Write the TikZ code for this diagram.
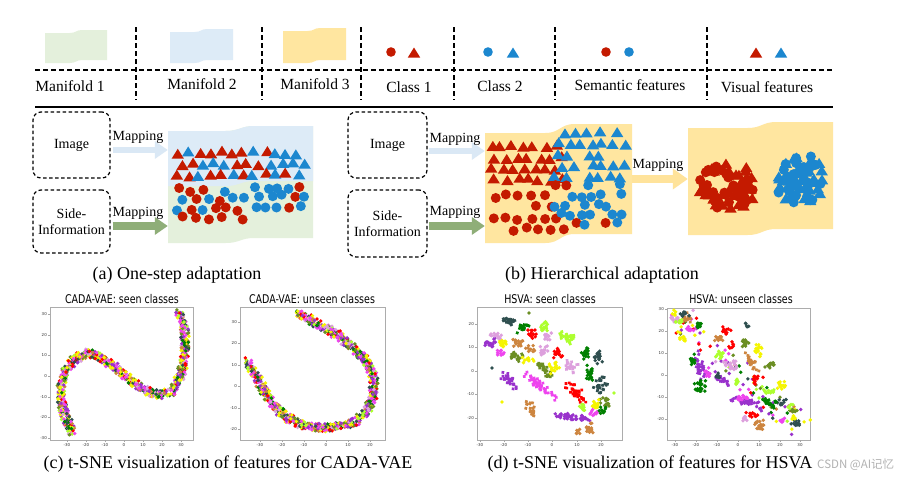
\documentclass[tikz,border=0pt]{standalone}
\usepackage{fontspec}
\setmainfont{Liberation Serif}
\newfontfamily\dvs{DejaVu Sans}
\newfontfamily\cjk{Noto Sans CJK SC}
\usetikzlibrary{arrows.meta}
\definecolor{cR}{HTML}{C41A00}
\definecolor{cB}{HTML}{1C87CF}
\definecolor{mG}{HTML}{E4F0DC}
\definecolor{mB}{HTML}{DDEBF7}
\definecolor{mY}{HTML}{FFE6A0}
\definecolor{arB}{HTML}{DAE8F5}
\definecolor{arG}{HTML}{8FAE78}
\definecolor{arY}{HTML}{FFE39B}
\definecolor{cpurple}{HTML}{9932CC}
\definecolor{cmag}{HTML}{EE44EE}
\definecolor{cplum}{HTML}{DDA0DD}
\definecolor{cyel}{HTML}{F5F500}
\definecolor{cgy}{HTML}{ADFF2F}
\definecolor{cdg}{HTML}{008000}
\definecolor{cdsg}{HTML}{2F4F4F}
\definecolor{cperu}{HTML}{CD853F}
\definecolor{colive}{HTML}{6B8E23}
\definecolor{cred}{HTML}{FF0000}
\pgfmathdeclarerandomlist{tsne}{{cpurple}{cmag}{cplum}{cyel}{cgy}{cdg}{cdsg}{cperu}{colive}{cred}{cpurple}{cmag}{cyel}}
\newcommand\mytri[3]{\fill[#1] (#2,#3) ++(0,-5.5) -- ++(6.2,10) -- ++(-12.4,0) -- cycle;}
\newcommand\mycirc[3]{\fill[#1] (#2,#3) circle[radius=5];}
\newcommand\flag[7]{%
 \pgfmathsetmacro\fw{(#3-#2)*0.1}%
 \pgfmathsetmacro\fma{#6-\fw}%
 \pgfmathsetmacro\fmb{#6+\fw}%
 \pgfmathsetmacro\fta{#4-#7}%
 \pgfmathsetmacro\fba{#5-#7}%
 \path[#1] (#2,#4) -- (\fma,#4) .. controls (#6,#4) and (#6,\fta) .. (\fmb,\fta) -- (#3,\fta) -- (#3,\fba) -- (\fmb,\fba) .. controls (#6,\fba) and (#6,#5) .. (\fma,#5) -- (#2,#5) -- cycle;}
\newcommand\clus[7]{%
 \pgfmathtruncatemacro\nk{#7*1.7}%
 \begin{scope}[shift={(#2,#3)}, rotate=#6]
 \foreach \k in {1,...,\nk}{\pgfmathsetmacro\uu{(rand+rand)/2*#4*1.1}\pgfmathsetmacro\vv{(rand+rand)/2*#5*1.1}\fill[#1] (\uu,\vv) circle[radius=1.9];}
 \end{scope}}
% #1 jitter, #2 density, #3 segments
\newcommand\tsneband[3]{%
 \foreach \xa/\ya/\xb/\yb in {#3}{%
  \pgfmathtruncatemacro\nn{veclen(\xb-\xa,\yb-\ya)*#2}%
  \foreach \k in {1,...,\nn}{%
   \pgfmathsetmacro\tt{rnd}%
   \pgfmathsetmacro\qx{\xa+\tt*(\xb-\xa)+rand*#1}%
   \pgfmathsetmacro\qy{\ya+\tt*(\yb-\ya)+rand*#1}%
   \pgfmathrandomitem{\tcol}{tsne}%
   \fill[\tcol] (\qx,\qy) circle[radius=1.9];}}}
\newcommand\ptit[1]{\scalebox{0.79}[1]{#1}}
\tikzset{
 dbox/.style={draw, line width=1.2pt, dash pattern=on 3.5pt off 2.5pt, rounded corners=8pt, align=center, inner sep=0pt, font=\fontsize{14}{15.5}\selectfont},
 maplab/.style={font=\fontsize{14}{16}\selectfont, inner sep=1pt},
 leglab/.style={font=\fontsize{15.5}{17}\selectfont, inner sep=1pt},
 captext/.style={font=\fontsize{18}{20}\selectfont, inner sep=1pt},
 ptitle/.style={font=\dvs\fontsize{12}{13}\selectfont, inner sep=1pt},
 tickl/.style={font=\dvs\fontsize{4}{4}\selectfont, inner sep=0.5pt, text=black!80},
 pframe/.style={draw=gray!65, line width=0.7pt, inner sep=0pt},
 legdash/.style={line width=1.3pt, dash pattern=on 5pt off 3pt},
 arrblue/.style={draw=arB, line width=6pt, -{Triangle[length=13pt,width=17pt]}},
 arrgreen/.style={draw=arG, line width=8pt, -{Triangle[length=13pt,width=17pt]}},
 arryellow/.style={draw=arY, line width=8pt, -{Triangle[length=15pt,width=20pt]}},
 ghostbox/.style={inner sep=0pt}
}
\begin{document}
\begin{tikzpicture}[x=1pt,y=-1pt]
\pgfmathsetseed{4242}
\useasboundingbox (0,0) rectangle (904,482);
\fill[white] (0,0) rectangle (904,482);
% ---------- legend ----------
\draw[legdash] (35,70) -- (832,70);
\foreach \xx in {136,262,361,454,555,707}{\draw[legdash] (\xx,27) -- (\xx,100);}
\draw[line width=1.5pt] (35,107) -- (833,107);
\flag{fill=mG}{45}{107}{33}{63}{76}{3}
\flag{fill=mB}{170}{233}{32}{63}{201}{3}
\flag{fill=mY}{283}{346}{31}{63}{314}{3}
\fill[cR] (391,52) circle[radius=4.8];
\mytri{cR}{414}{53}
\fill[cB] (488,52) circle[radius=4.8];
\mytri{cB}{513}{53}
\fill[cR] (606,52) circle[radius=4.8];
\fill[cB] (629,52) circle[radius=4.8];
\mytri{cR}{756}{53}
\mytri{cB}{781}{53}
\node[leglab] (l1) at (70,86) {Manifold 1};
\node[leglab] (l2) at (202,84) {Manifold 2};
\node[leglab] (l3) at (315,84) {Manifold 3};
\node[leglab] (l4) at (409,87) {Class 1};
\node[leglab] (l5) at (500,86) {Class 2};
\node[leglab] (l6) at (630,85) {Semantic features};
\node[leglab] (l7) at (767,87) {Visual features};
% ---------- panel (a) ----------
\node[dbox, minimum width=77pt, minimum height=66pt] (imgA) at (71.5,145) {Image};
\node[dbox, minimum width=77pt, minimum height=63pt] (sideA) at (71.5,221.5) {Side-\\Information};
\flag{fill=mG}{168}{313}{131}{243}{240}{5}
\flag{fill=mB}{168}{313}{131}{186}{240}{5}
\node[ghostbox, minimum width=145pt, minimum height=112pt] (manA) at (240.5,187) {};
\coordinate (aA1) at ([yshift=-5pt]imgA.east);
\coordinate (aA2) at ([yshift=-4.5pt]sideA.east);
\draw[arrblue, shorten <=2pt] (aA1) -- (aA1 -| manA.west);
\draw[arrgreen, shorten <=2pt] (aA2) -- (aA2 -| manA.west);
\node[maplab] (mA1) at (138,137) {Mapping};
\node[maplab] (mA2) at (138,213) {Mapping};
\foreach \ri in {0,1,2}{\foreach \ci in {0,...,11}{%
 \pgfmathsetmacro\px{177+\ci*11+mod(\ri,2)*5+rand*2.5}%
 \pgfmathsetmacro\py{153+\ri*11+rand*2}%
 \pgfmathsetmacro\pr{0.8-(\px-175)/135*0.6}%
 \pgfmathtruncatemacro\isr{rnd<\pr}%
 \ifnum\isr=1 \mytri{cR}{\px}{\py}\else\mytri{cB}{\px}{\py}\fi}}
\foreach \ri in {0,...,3}{\foreach \ci in {0,...,5}{%
 \pgfmathsetmacro\px{178+\ci*12+mod(\ri,2)*6+rand*2}%
 \pgfmathsetmacro\py{190+\ri*9.5+rand*2}%
 \pgfmathtruncatemacro\isr{rnd<0.72}%
 \pgfmathtruncatemacro\skp{rnd<0.12}%
 \ifnum\skp=0 \ifnum\isr=1 \mycirc{cR}{\px}{\py}\else\mycirc{cB}{\px}{\py}\fi\fi}}
\foreach \ri in {0,1,2}{\foreach \ci in {0,...,4}{%
 \pgfmathsetmacro\px{256+\ci*11+mod(\ri,2)*5+rand*2}%
 \pgfmathsetmacro\py{187+\ri*9.5+rand*2}%
 \pgfmathtruncatemacro\isr{rnd<0.22}%
 \ifnum\isr=1 \mycirc{cR}{\px}{\py}\else\mycirc{cB}{\px}{\py}\fi}}
\node[captext] (capA) at (177,275) {(a) One-step adaptation};
% ---------- panel (b) ----------
\node[dbox, minimum width=79pt, minimum height=66pt] (imgB) at (387.5,145) {Image};
\node[dbox, minimum width=79pt, minimum height=67pt] (sideB) at (387.5,223.5) {Side-\\Information};
\flag{fill=mY}{485}{632}{133}{243}{560}{9}
\flag{fill=mY}{688}{833}{128}{235}{762}{6}
\node[ghostbox, minimum width=147pt, minimum height=100pt] (manB1) at (558.5,179) {};
\node[ghostbox, minimum width=145pt, minimum height=100pt] (manB2) at (760.5,179) {};
\coordinate (aB1) at ([yshift=-6pt]imgB.east);
\coordinate (aB2) at ([yshift=-2.5pt]sideB.east);
\draw[arrblue, shorten <=1pt] (aB1) -- (aB1 -| manB1.west);
\draw[arrgreen, shorten <=1pt] (aB2) -- (aB2 -| manB1.west);
\draw[arryellow] (manB1.east) -- (manB2.west);
\node[maplab] (mB1) at (455,139) {Mapping};
\node[maplab] (mB2) at (455,212) {Mapping};
\node[maplab] (mB3) at (658,165) {Mapping};
\foreach \ri in {0,...,3}{\foreach \ci in {0,...,6}{%
 \pgfmathsetmacro\px{491+\ci*10.8+mod(\ri,2)*5+rand*2.5}%
 \pgfmathsetmacro\py{147+\ri*11+rand*2}%
 \pgfmathtruncatemacro\skp{rnd<0.15}%
 \ifnum\skp=0 \mytri{cR}{\px}{\py}\fi}}
\foreach \ri in {0,...,4}{\foreach \ci in {0,...,6}{%
 \pgfmathsetmacro\px{556+\ci*10.5+mod(\ri,2)*5+rand*2.5}%
 \pgfmathsetmacro\py{133+\ri*11+rand*1.5}%
 \pgfmathtruncatemacro\skp{rnd<0.2}%
 \ifnum\skp=0 \mytri{cB}{\px}{\py}\fi}}
\foreach \ri in {0,...,3}{\foreach \ci in {0,...,5}{%
 \pgfmathsetmacro\px{494+\ci*12.5+mod(\ri,2)*6+rand*2}%
 \pgfmathsetmacro\py{196+\ri*11+rand*2}%
 \pgfmathtruncatemacro\skp{rnd<0.2}%
 \ifnum\skp=0 \mycirc{cR}{\px}{\py}\fi}}
\foreach \ri in {0,...,4}{\foreach \ci in {0,...,6}{%
 \pgfmathsetmacro\px{555+\ci*10.5+mod(\ri,2)*5+rand*2}%
 \pgfmathsetmacro\py{186+\ri*9.5+rand*2}%
 \pgfmathtruncatemacro\skp{rnd<0.25}%
 \pgfmathtruncatemacro\isr{rnd<0.12}%
 \ifnum\skp=0 \ifnum\isr=1 \mycirc{cR}{\px}{\py}\else\mycirc{cB}{\px}{\py}\fi\fi}}
\foreach \k in {1,...,68}{%
 \pgfmathsetmacro\ang{rnd*360}\pgfmathsetmacro\rad{sqrt(rnd)}%
 \pgfmathsetmacro\px{728+\rad*29*cos(\ang)}\pgfmathsetmacro\py{186+\rad*24*sin(\ang)}%
 \pgfmathtruncatemacro\shp{rnd<0.5}%
 \ifnum\shp=1 \mytri{cR}{\px}{\py}\else\mycirc{cR}{\px}{\py}\fi}
\foreach \k in {1,...,66}{%
 \pgfmathsetmacro\ang{rnd*360}\pgfmathsetmacro\rad{sqrt(rnd)}%
 \pgfmathsetmacro\px{800+\rad*26*cos(\ang)}\pgfmathsetmacro\py{179+\rad*25*sin(\ang)}%
 \pgfmathtruncatemacro\shp{rnd<0.5}%
 \ifnum\shp=1 \mytri{cB}{\px}{\py}\else\mycirc{cB}{\px}{\py}\fi}
\node[captext] (capB) at (602,275) {(b) Hierarchical adaptation};
% ---------- plots ----------
\node[pframe, minimum width=143pt, minimum height=133pt] (p1) at (121.5,373.5) {};
\node[pframe, minimum width=145pt, minimum height=133pt] (p2) at (312.5,373.5) {};
\node[pframe, minimum width=145pt, minimum height=133pt] (p3) at (549.5,373.5) {};
\node[pframe, minimum width=143pt, minimum height=132pt] (p4) at (738.5,374) {};
\node[ptitle] (t1) at (122,299) {\ptit{CADA-VAE: seen classes}};
\node[ptitle] (t2) at (312,299) {\ptit{CADA-VAE: unseen classes}};
\node[ptitle] (t3) at (550,299) {\ptit{HSVA: seen classes}};
\node[ptitle] (t4) at (741,299) {\ptit{HSVA: unseen classes}};
% y ticks
\foreach \v/\yy in {30/314,20/334.7,10/355.3,0/376,-10/396.7,-20/417.3,-30/438}{\draw[gray!70,line width=0.4pt] (50,\yy) -- (48,\yy); \node[tickl, anchor=east] (ya\yy) at (47.5,\yy) {\v};}
\foreach \v/\yy in {30/322,20/343.5,10/365,0/386.5,-10/408,-20/429.5}{\draw[gray!70,line width=0.4pt] (240,\yy) -- (238,\yy); \node[tickl, anchor=east] (yb\yy) at (237.5,\yy) {\v};}
\foreach \v/\yy in {20/324,10/347.5,0/371,-10/394.5,-20/418}{\draw[gray!70,line width=0.4pt] (477,\yy) -- (475,\yy); \node[tickl, anchor=east] (yc\yy) at (474.5,\yy) {\v};}
\foreach \v/\yy in {30/309,20/331,10/353,0/375,-10/397,-20/419}{\draw[gray!70,line width=0.4pt] (667,\yy) -- (665,\yy); \node[tickl, anchor=east] (yd\yy) at (664.5,\yy) {\v};}
% x ticks
\foreach \v/\xx in {-30/67,-20/86,-10/105,0/124,10/143,20/162,30/181}{\draw[gray!70,line width=0.4pt] (\xx,440) -- (\xx,442); \node[tickl, anchor=north] (xa\xx) at (\xx,442.5) {\v};}
\foreach \v/\xx in {-30/260,-20/282,-10/304,0/326,10/348,20/370}{\draw[gray!70,line width=0.4pt] (\xx,440) -- (\xx,442); \node[tickl, anchor=north] (xb\xx) at (\xx,442.5) {\v};}
\foreach \v/\xx in {-30/480,-20/504,-10/528,0/552,10/577,20/601}{\draw[gray!70,line width=0.4pt] (\xx,440) -- (\xx,442); \node[tickl, anchor=north] (xc\xx) at (\xx,442.5) {\v};}
\foreach \v/\xx in {-30/675,-20/696,-10/717,0/738,10/759,20/780,30/800}{\draw[gray!70,line width=0.4pt] (\xx,440) -- (\xx,442); \node[tickl, anchor=north] (xd\xx) at (\xx,442.5) {\v};}
% CADA-VAE bands
\tsneband{4}{3.2}{72/433/63/410, 63/410/60/392, 60/392/64/372, 64/372/75/359, 75/359/88/353, 88/353/100/357, 100/357/115/367, 115/367/130/380, 130/380/145/391, 145/391/160/395, 160/395/172/391, 172/391/181/376, 181/376/185/352, 185/352/185/330, 185/330/179/313}
\tsneband{4}{3.2}{297/313/317/323, 317/323/337/335, 337/335/353/348, 353/348/367/362, 367/362/374/378, 374/378/373/395, 373/395/366/412, 366/412/355/422, 355/422/330/428, 330/428/307/427, 307/427/287/418, 287/418/273/405, 273/405/263/389, 263/389/253/372, 253/372/247/361}
% HSVA seen
\clus{cdsg}{510}{321}{9}{4}{-20}{14}
\clus{cdg}{523}{327}{8}{4}{25}{12}
\clus{cred}{532}{334}{5}{4}{0}{8}
\clus{cgy}{543}{327}{6}{5}{0}{10}
\clus{cplum}{547}{337}{5}{4}{0}{6}
\clus{cgy}{568}{338}{12}{5}{-25}{18}
\clus{cpurple}{490}{343}{7}{5}{0}{12}
\clus{cyel}{502}{343}{5}{5}{0}{10}
\clus{cplum}{497}{336}{8}{3}{0}{8}
\clus{cmag}{500}{353}{4}{4}{0}{6}
\clus{cperu}{517}{343}{7}{4}{-10}{10}
\clus{cperu}{529}{348}{5}{4}{0}{6}
\clus{cplum}{546}{350}{6}{5}{0}{8}
\clus{cred}{558}{353}{6}{5}{0}{10}
\clus{colive}{515}{356}{8}{5}{-20}{12}
\clus{cyel}{528}{360}{6}{4}{0}{6}
\clus{colive}{545}{370}{12}{5}{-45}{18}
\clus{cyel}{555}{368}{6}{6}{0}{10}
\clus{cplum}{571}{367}{8}{6}{-40}{14}
\clus{cdg}{585}{355}{4}{8}{0}{12}
\clus{cdsg}{598}{356}{5}{7}{0}{12}
\clus{cdg}{591}{374}{5}{9}{0}{14}
\clus{cdsg}{601}{385}{8}{7}{30}{14}
\clus{cpurple}{509}{381}{12}{5}{-50}{16}
\clus{cmag}{540}{386}{25}{4}{-37}{30}
\clus{cred}{576}{392}{14}{5}{-45}{22}
\clus{colive}{604}{402}{6}{5}{0}{10}
\clus{cyel}{595}{404}{5}{6}{0}{10}
\clus{cperu}{531}{410}{9}{5}{-60}{14}
\clus{cpurple}{568}{417}{15}{4}{-5}{20}
\clus{cpurple}{585}{418}{6}{4}{0}{8}
\clus{cperu}{590}{428}{5}{6}{0}{10}
\clus{cperu}{578}{431}{3}{3}{0}{4}
\clus{cgy}{583}{408}{4}{4}{0}{6}
\clus{cmag}{594}{413}{4}{4}{0}{6}
\clus{cdg}{603}{410}{4}{4}{0}{6}
\fill[cdsg] (492,368) circle[radius=1.9];
\fill[colive] (529,313) circle[radius=1.9];
\fill[cgy] (614,393) circle[radius=1.9];
\fill[cyel] (502,402) circle[radius=1.9];
% HSVA unseen
\tsneband{13}{0.55}{676/318/800/424}
\clus{cplum}{675}{318}{6}{4}{0}{8}
\clus{cperu}{687}{320}{6}{6}{-40}{10}
\clus{cdsg}{684}{314}{5}{3}{0}{6}
\clus{cgy}{679}{322}{4}{3}{0}{5}
\clus{cyel}{675}{313}{3}{3}{0}{3}
\clus{cmag}{690}{330}{5}{4}{0}{6}
\clus{cdg}{698}{326}{4}{4}{0}{8}
\clus{cyel}{683}{337}{5}{5}{0}{8}
\clus{cred}{726}{330}{5}{4}{0}{10}
\clus{cperu}{718}{338}{5}{5}{0}{8}
\clus{cred}{730}{345}{4}{4}{0}{4}
\clus{cdsg}{747}{326}{3}{3}{0}{3}
\clus{colive}{745}{343}{4}{5}{0}{8}
\clus{cyel}{758}{350}{4}{7}{0}{10}
\clus{cperu}{752}{362}{12}{4}{-60}{14}
\clus{cred}{755}{378}{3}{6}{0}{8}
\clus{cpurple}{700}{366}{14}{5}{-70}{22}
\clus{cdg}{692}{360}{4}{6}{0}{8}
\clus{cdg}{700}{387}{6}{7}{0}{14}
\clus{cplum}{730}{365}{8}{6}{0}{12}
\clus{cgy}{720}{355}{5}{4}{0}{8}
\clus{cmag}{708}{373}{5}{5}{0}{8}
\clus{cpurple}{724}{381}{10}{4}{-30}{12}
\clus{cdsg}{717}{376}{4}{3}{0}{5}
\clus{cgy}{737}{382}{3}{4}{0}{6}
\clus{colive}{770}{365}{5}{4}{0}{8}
\clus{cyel}{781}{386}{4}{5}{0}{8}
\clus{cgy}{770}{392}{5}{3}{0}{6}
\clus{cdg}{770}{403}{9}{4}{-20}{14}
\clus{cpurple}{748}{403}{16}{4}{-20}{20}
\clus{cmag}{742}{398}{8}{3}{0}{8}
\clus{cdsg}{783}{403}{4}{4}{0}{5}
\clus{cperu}{760}{425}{6}{6}{0}{12}
\clus{cred}{752}{415}{6}{3}{0}{6}
\clus{cplum}{745}{420}{4}{4}{0}{5}
\clus{cdsg}{797}{423}{5}{3}{0}{8}
\clus{cyel}{794}{418}{3}{3}{0}{4}
\clus{colive}{793}{412}{4}{3}{0}{6}
\clus{cgy}{790}{406}{3}{3}{0}{4}
\clus{cmag}{782}{420}{4}{3}{0}{5}
% captions
\node[captext] (capC) at (228,464) {(c) t-SNE visualization of features for CADA-VAE};
\node[captext] (capD) at (650,464) {(d) t-SNE visualization of features for HSVA};
\node[font=\cjk\fontsize{11.5}{12}\selectfont, text=gray!60, anchor=west, inner sep=0pt] (wm) at (817,465) {CSDN @AI记忆};
\end{tikzpicture}
\end{document}
